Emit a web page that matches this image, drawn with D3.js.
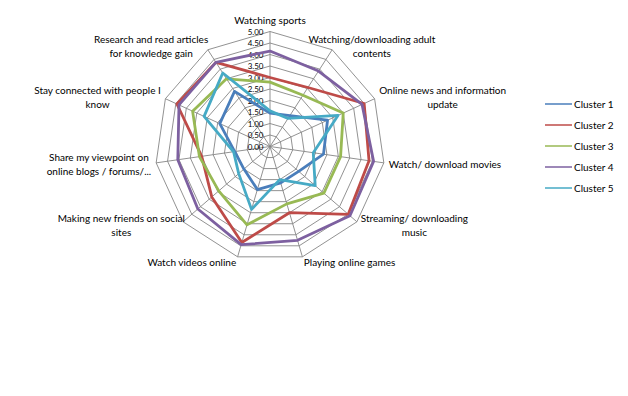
<!DOCTYPE html>
<html>
<head>
<meta charset="utf-8">
<script src="https://cdn.jsdelivr.net/npm/d3@7"></script>
<style>
  html, body { margin: 0; padding: 0; background: #fff; }
  svg { display: block; }
  text { font-family: Lato, "Open Sans", sans-serif; fill: #000; }
</style>
</head>
<body>
<svg id="chart" width="628" height="396"></svg>
<script>
// ---- data ----
const categories = [
  "Watching sports",
  "Watching/downloading adult\ncontents",
  "Online news and information\nupdate",
  "Watch/ download movies",
  "Streaming/ downloading\nmusic",
  "Playing online games",
  "Watch videos online",
  "Making new friends on social\nsites",
  "Share my viewpoint on\nonline blogs / forums/...",
  "Stay connected with people I\nknow",
  "Research and read articles\nfor knowledge gain"
];
const seriesNames = ["Cluster 1", "Cluster 2", "Cluster 3", "Cluster 4", "Cluster 5"];
const cluster1 = [1.45, 1.60, 2.75, 2.35, 1.65, 1.65, 1.95, 1.50, 1.55, 2.40, 2.85];
const cluster2 = [3.00, 3.05, 4.50, 4.35, 4.50, 3.00, 4.35, 3.35, 3.00, 4.45, 4.35];
const cluster3 = [2.80, 2.65, 3.50, 3.10, 3.10, 2.60, 3.55, 2.95, 3.10, 3.70, 3.50];
const cluster4 = [4.15, 3.90, 4.40, 4.55, 4.60, 4.25, 4.45, 4.15, 4.05, 4.35, 4.35];
const cluster5 = [1.55, 1.45, 3.25, 1.90, 2.60, 1.50, 2.85, 1.80, 1.60, 3.15, 3.80];
const tickValues = [0, 0.5, 1, 1.5, 2, 2.5, 3, 3.5, 4, 4.5, 5];
const tickLabels = ["0.00","0.50","1.00","1.50","2.00","2.50","3.00","3.50","4.00","4.50","5.00"];

// ---- layout / style ----
const colors = ["#4A7EBB", "#BE4B48", "#98B954", "#7D60A0", "#46AAC5"];
const cx = 270, cy = 146.5, R = 115;
const labelBoxW = [null, 74, null, null, null, null, null, 116, null, null, 108];

const series = [cluster1, cluster2, cluster3, cluster4, cluster5];
const svg = d3.select("#chart");
const n = categories.length;

const r = d3.scaleLinear().domain([0, 5]).range([0, R]);
const angle = d3.scaleLinear().domain([0, n]).range([0, 2 * Math.PI]);
const px = (i, v) => cx + Math.sin(angle(i)) * r(v);
const py = (i, v) => cy - Math.cos(angle(i)) * r(v);

const g = svg.append("g");

// grid rings
tickValues.filter(t => t > 0).forEach(t => {
  const pts = d3.range(n).map(i => [px(i, t), py(i, t)]);
  g.append("path")
    .attr("d", d3.line()(pts) + "Z")
    .attr("fill", "none")
    .attr("stroke", "#868686")
    .attr("stroke-width", 0.9);
});
// spokes
d3.range(n).forEach(i => {
  g.append("line")
    .attr("x1", cx).attr("y1", cy)
    .attr("x2", px(i, 5)).attr("y2", py(i, 5))
    .attr("stroke", "#868686")
    .attr("stroke-width", 0.9);
});

// tick labels
tickValues.forEach((t, k) => {
  g.append("text")
    .attr("x", cx - 6.5)
    .attr("y", cy - r(t))
    .attr("text-anchor", "end")
    .attr("dominant-baseline", "central")
    .attr("font-size", 8)
    .text(tickLabels[k]);
});

// series
const line = d3.line()
  .x((d, i) => px(i, d))
  .y((d, i) => py(i, d))
  .curve(d3.curveLinearClosed);
series.forEach((s, k) => {
  g.append("path")
    .attr("d", line(s))
    .attr("fill", "none")
    .attr("stroke", colors[k])
    .attr("stroke-width", 2.8)
    .attr("stroke-linejoin", "round");
});

// category labels
const lineH = 14;
categories.forEach((c, i) => {
  const a = angle(i);
  const dx = Math.sin(a), dy = -Math.cos(a);
  const ax = cx + dx * (R + 5), ay = cy + dy * (R + 5);
  const lines = c.split("\n");
  const grp = g.append("g");
  const texts = lines.map(l => grp.append("text")
    .attr("text-anchor", "middle")
    .attr("dominant-baseline", "central")
    .attr("font-size", 10)
    .text(l));
  const W = d3.max(texts, t => t.node().getComputedTextLength());
  const bw = labelBoxW[i] || W;
  let bx, by;
  if (Math.abs(dx) < 0.01) {
    bx = ax;
    by = dy < 0 ? ay - lines.length * lineH / 2 : ay + lines.length * lineH / 2;
  } else {
    bx = dx > 0 ? ax + bw / 2 : ax - bw / 2;
    by = ay;
  }
  texts.forEach((t, j) => {
    t.attr("x", bx).attr("y", by + (j - (lines.length - 1) / 2) * lineH);
  });
});

// legend
const lg = svg.append("g");
seriesNames.forEach((name, k) => {
  const y = 104 + k * 21;
  lg.append("line")
    .attr("x1", 545).attr("x2", 572)
    .attr("y1", y).attr("y2", y)
    .attr("stroke", colors[k])
    .attr("stroke-width", 1.5);
  lg.append("text")
    .attr("x", 574).attr("y", y)
    .attr("dominant-baseline", "central")
    .attr("font-size", 10)
    .text(name);
});
</script>
</body>
</html>
